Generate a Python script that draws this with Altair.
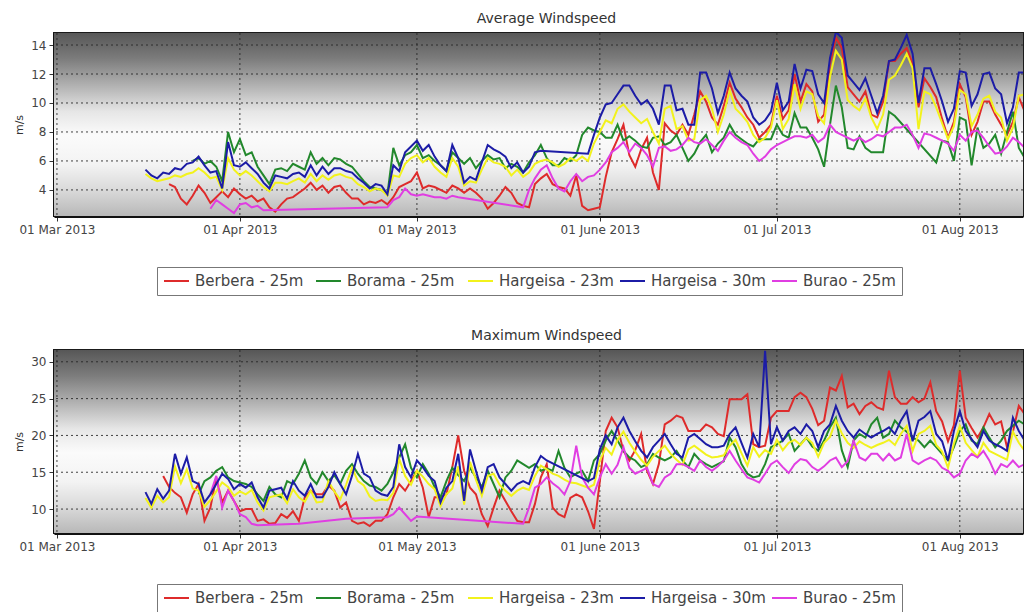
import altair as alt
import pandas as pd

N = None
SERIES = ["Berbera - 25m", "Borama - 25m", "Hargeisa - 23m", "Hargeisa - 30m", "Burao - 25m"]
COLORS = ["#de2b2b", "#22882c", "#f2f21c", "#1c1ca6", "#e03ee2"]
DRAW_ORDER = ["Berbera - 25m", "Borama - 25m", "Hargeisa - 23m", "Burao - 25m", "Hargeisa - 30m"]
FIRST_DAY = "2013-03-16"

# ---------------- Average windspeed (m/s), daily from 16 Mar 2013 ----------------
avg_berbera = [
    N, N, N, N, 4.4, 4.2, 3.4, 3.0, 3.6, 4.3,
    3.8, 3.1, 3.5, 3.9, 3.5, 4.1, 3.7, 3.4, 3.6, 3.2,
    3.4, 2.8, 2.5, 3.0, 3.4, 3.5, 3.8, 4.1, 4.5, 4.0,
    4.3, 3.8, 4.2, 4.3, 3.8, 3.4, 3.4, 3.0, 3.2, 3.1,
    3.3, 3.0, 3.5, 4.2, 4.4, 4.6, 5.2, 4.1, 4.3, 4.2,
    4.0, 3.8, 4.3, 4.1, 3.8, 4.1, 3.8, 3.4, 2.7, 3.1,
    3.6, 4.2, 3.8, 3.1, 2.9, 2.8, 4.4, 4.8, 5.1, 4.4,
    4.2, 4.1, 3.6, 5.0, 2.9, 2.6, 2.7, 2.8, 4.9, 6.6,
    7.5, 8.5, 6.4, 5.6, 6.8, 7.6, 5.2, 4.0, 8.6, 8.1,
    7.8, 8.5, 7.8, 9.2, 10.8, 10.1, 9.0, 8.5, 9.8, 11.4,
    10.3, 9.7, 9.0, 8.5, 7.6, 8.0, 8.5, 10.5, 8.9, 9.5,
    12.0, 10.1, 11.3, 10.8, 8.7, 9.2, 12.7, 14.5, 13.8, 11.1,
    10.6, 10.1, 10.8, 9.2, 9.0, 10.1, 12.9, 12.9, 13.4, 13.8,
    12.7, 9.7, 11.7, 11.1, 10.4, 8.9, 7.6, 8.7, 11.3, 10.4,
    7.8, 8.7, 10.1, 10.1, 9.2, 8.5, 7.8, 8.7, 10.4, 9.4,
    8.5,
]
avg_borama = [
    N, N, N, N, N, N, N, N, 6.0, 6.2,
    5.8, 6.0, 5.6, 4.6, 8.0, 6.6, 7.5, 6.4, 6.6, 5.6,
    5.0, 4.4, 5.4, 5.5, 5.3, 5.8, 5.6, 5.4, 6.6, 5.8,
    6.2, 5.7, 6.2, 6.1, 5.8, 5.6, 5.1, 4.6, 4.2, 4.1,
    4.0, 3.7, 6.9, 5.7, 6.4, 6.6, 7.1, 6.2, 6.4, 6.0,
    5.7, 5.3, 6.6, 6.2, 5.8, 6.2, 5.5, 6.0, 6.4, 6.1,
    6.2, 5.5, 5.8, 5.6, 5.2, 5.9, 6.4, 7.1, 6.2, 5.7,
    5.7, 6.2, 6.0, 6.4, 7.8, 8.3, 8.1, 8.0, 7.6, 7.6,
    8.5, 7.4, 7.7, 7.4, 7.0, 6.9, 7.6, 7.7, 7.1, 7.3,
    7.8, 6.9, 6.0, 6.5, 7.3, 7.8, 6.6, 7.2, 7.6, 8.5,
    7.8, 7.5, 7.2, 7.0, 7.5, 7.5, 7.5, 8.5, 7.8, 7.6,
    9.3, 8.3, 8.3, 7.6, 6.8, 5.6, 8.5, 11.2, 9.7, 6.9,
    6.8, 7.7, 6.9, 6.6, 6.6, 6.6, 9.4, 9.1, N, N,
    N, N, N, N, 5.9, 7.4, 7.3, 6.0, 9.0, 8.8,
    5.7, 8.3, 6.9, 7.2, 7.8, 6.5, 8.0, 9.4, 6.9, 6.2,
    6.5,
]
avg_hargeisa23 = [
    5.1, 4.8, 4.6, 4.7, 4.8, 5.0, 4.9, 5.1, 5.2, 5.5,
    5.2, 4.8, 4.9, 4.0, 6.2, 5.4, 5.0, 5.3, 5.0, 4.6,
    4.2, 3.9, 4.5, 4.5, 4.4, 4.6, 4.8, 4.5, 5.1, 4.6,
    5.0, 4.7, 5.0, 5.1, 4.9, 4.8, 4.4, 4.2, 3.9, 4.1,
    4.0, 3.6, 5.0, 4.9, 5.8, 6.2, 6.4, 5.9, 6.2, 5.6,
    5.2, 4.9, 6.2, 5.6, 4.3, 4.6, 4.5, 5.4, 6.2, 5.9,
    5.8, 5.6, 5.0, 5.4, 4.9, 5.2, 5.8, 6.0, 6.1, 5.9,
    5.6, 5.8, 6.2, 6.0, 6.3, 6.0, 7.2, 8.0, 8.8, 8.6,
    9.6, 9.9, 9.4, 9.0, 8.6, 8.9, 8.0, 7.2, 9.6, 9.8,
    8.2, 8.4, 7.4, 7.5, 10.2, 10.5, 9.6, 8.0, 9.2, 10.9,
    9.6, 9.2, 8.7, 7.8, 7.3, 7.6, 8.3, 10.2, 8.2, 8.9,
    11.3, 9.6, 10.8, 10.6, 9.1, 8.6, 11.8, 13.6, 13.0, 10.2,
    9.8, 9.5, 10.3, 9.0, 8.2, 9.2, 11.6, 11.9, 12.6, 13.4,
    12.4, 8.2, 10.8, 10.6, 9.7, 8.6, 7.5, 8.4, 10.9, 10.6,
    8.4, 9.2, 10.3, 10.5, 9.4, 9.0, 7.4, 8.3, 10.5, 10.6,
    8.8,
]
avg_hargeisa30 = [
    5.4, 5.0, 4.8, 5.2, 5.1, 5.5, 5.4, 5.8, 5.9, 6.3,
    5.7, 5.2, 5.3, 4.1, 7.3, 5.7, 5.6, 5.9, 5.5, 5.1,
    4.5, 4.1, 5.0, 4.9, 4.8, 5.1, 5.2, 4.9, 5.7, 5.0,
    5.6, 5.1, 5.5, 5.5, 5.3, 5.2, 4.8, 4.5, 4.1, 4.4,
    4.3, 3.7, 5.7, 5.3, 6.6, 7.0, 7.4, 6.7, 7.1, 6.3,
    5.7, 5.3, 7.1, 6.2, 4.5, 4.9, 4.7, 5.9, 7.1, 6.8,
    6.6, 6.3, 5.5, 5.9, 5.2, 5.6, 6.6, 6.7, N, N,
    N, N, N, N, N, 6.5, 7.8, 9.0, 9.9, 10.0,
    10.6, 11.2, 11.2, 10.5, 9.9, 10.2, 9.6, 8.5, 11.2, 11.2,
    9.5, 9.6, 8.5, 8.5, 12.1, 12.1, 11.0, 9.3, 10.5, 12.1,
    11.0, 10.5, 10.1, 9.0, 8.5, 8.8, 9.4, 11.4, 9.5, 10.1,
    12.7, 11.0, 12.3, 12.2, 10.6, 10.0, 13.1, 14.9, 14.5, 11.9,
    11.4, 10.9, 11.7, 10.5, 9.3, 10.5, 12.9, 13.0, 13.8, 14.7,
    13.4, 10.0, 12.4, 12.4, 11.3, 10.1, 8.7, 9.6, 12.2, 12.1,
    9.8, 10.6, 12.0, 12.1, 11.0, 10.6, 8.6, 9.7, 12.1, 12.1,
    10.1,
]
avg_burao = [
    N, N, N, N, N, N, N, N, N, N,
    N, 2.7, 3.3, 3.0, 2.7, 2.4, 3.0, 3.1, 2.8, 2.9,
    2.6, N, N, N, N, N, N, N, N, N,
    N, N, N, N, N, N, N, N, N, N,
    N, 2.8, 3.3, 3.5, 4.1, 3.7, 3.6, 3.7, 3.6, 3.5,
    3.5, 3.4, 3.6, 3.5, N, N, N, N, N, N,
    N, N, N, N, 2.8, 4.0, 4.8, 5.4, 5.7, 4.8,
    4.1, 3.9, 4.6, 5.1, 4.6, 4.9, 5.0, 5.4, 5.9, 6.6,
    6.9, 7.3, 6.6, 7.2, 6.9, 6.4, 5.6, 6.9, 7.0, 6.7,
    6.8, 7.1, 7.6, 7.3, 7.2, 7.5, 7.1, 6.7, 7.4, 8.0,
    7.6, 7.3, 7.1, 6.5, 6.0, 6.3, 6.8, 7.1, 7.3, 7.5,
    7.7, 7.7, 7.6, 7.8, 7.3, 7.6, 8.5, 8.0, 7.8, 7.6,
    7.4, 7.6, 7.3, 7.5, 7.8, 7.7, 8.0, 8.3, 8.3, 8.5,
    7.8, 6.9, 7.9, 7.8, 7.6, 7.4, 7.2, 6.7, 7.8, 7.4,
    8.0, 8.1, 7.6, 7.0, 6.5, 6.6, 7.0, 7.6, 7.3, 6.9,
    7.3,
]

# ---------------- Maximum windspeed (m/s), daily from 16 Mar 2013 ----------------
max_berbera = [
    N, N, N, 14.5, 13.0, 12.2, 11.6, 9.5, 12.0, 13.4,
    8.4, 10.2, 14.3, 10.9, 12.5, 11.1, 9.7, 10.0, 10.0, 8.4,
    8.6, 8.0, 8.1, 9.3, 8.8, 9.7, 8.4, 11.6, 12.5, 12.0,
    12.0, 13.2, 12.5, 10.2, 10.9, 8.4, 8.0, 8.2, 7.7, 8.4,
    8.4, 9.3, 11.6, 13.4, 12.5, 13.8, 15.2, 12.9, 8.9, 11.6,
    11.6, 12.0, 15.7, 20.0, 15.2, 12.9, 12.0, 9.3, 7.7, 10.2,
    12.5, 11.1, 9.7, 8.4, 8.2, 8.2, 10.7, 14.3, 16.1, 10.2,
    9.3, 8.9, 11.5, 12.0, 11.6, 9.7, 7.3, 13.8, 20.6, 22.4,
    21.1, 17.9, 16.6, 18.0, 20.2, 15.2, 13.4, 16.1, 21.5, 22.0,
    22.7, 22.4, 20.6, 20.6, 20.6, 21.5, 21.1, 20.2, 19.9, 24.9,
    24.9, 24.9, 25.6, 18.8, 18.4, 18.6, 22.4, 23.3, 23.3, 23.3,
    25.2, 25.8, 25.2, 23.6, 21.4, 22.0, 26.5, 26.1, 28.1, 23.8,
    24.3, 22.9, 24.0, 24.5, 23.8, 23.5, 28.8, 25.2, 24.3, 24.3,
    25.2, 24.5, 25.0, 27.2, 23.3, 21.9, 19.2, 21.4, 28.8, 22.4,
    21.0, 19.7, 21.1, 22.9, 21.5, 21.9, 18.4, 20.5, 24.0, 22.9,
    21.1,
]
max_borama = [
    N, N, N, N, N, N, N, N, N, 12.0,
    13.8, 14.3, 15.2, 15.7, 14.3, 13.8, 13.6, 13.4, 13.0, 12.0,
    11.1, 13.0, 12.0, 11.6, 13.8, 13.4, 14.8, 16.6, 14.3, 13.4,
    15.0, 13.8, 14.6, 13.4, 15.2, 16.1, 14.8, 13.8, 13.2, 13.0,
    12.5, 13.4, 15.0, 17.0, 18.8, 15.6, 14.3, 16.1, 14.8, 13.0,
    11.6, 13.8, 15.6, 14.6, 13.8, 15.6, 14.3, 13.0, 15.2, 13.4,
    11.6, 14.3, 15.2, 16.6, 16.1, 15.6, 16.1, 15.2, 15.5, 15.2,
    17.9, 15.6, 14.3, 14.8, 15.2, 13.8, 16.6, 17.5, 19.3, 20.6,
    19.3, 17.9, 17.0, 16.6, 15.7, 16.1, 17.5, 17.0, 16.6, 17.0,
    17.9, 16.6, 15.7, 17.5, 16.6, 16.1, 15.7, 16.1, 16.5, 19.7,
    18.4, 16.1, 14.8, 14.3, 14.5, 16.1, 18.4, 18.8, 19.3, 20.2,
    17.9, 18.8, 19.7, 18.5, 17.9, 19.3, 21.1, 22.4, 18.0, 15.7,
    19.3, 20.2, 19.7, 21.5, 22.4, 19.7, 20.2, 22.0, 21.1, 20.5,
    19.7, 19.3, 18.4, 19.3, 18.4, 17.5, 16.6, 18.4, 20.6, 21.5,
    19.3, 18.8, 21.1, 19.7, 18.4, 19.3, 20.6, 21.3, 22.0, 21.5,
    20.6,
]
max_hargeisa23 = [
    11.5, 10.2, 11.8, 10.9, 11.6, 15.8, 13.5, 15.4, 12.8, 12.5,
    10.3, 11.2, 12.4, 13.6, 13.0, 11.8, 12.4, 12.0, 12.6, 10.9,
    9.8, 11.6, 11.8, 12.0, 10.8, 12.7, 11.6, 11.0, 12.5, 10.9,
    11.0, 13.8, 12.4, 11.3, 13.3, 15.6, 13.8, 13.2, 11.7, 11.1,
    11.3, 11.2, 12.2, 16.8, 14.5, 13.3, 15.2, 14.4, 13.4, 12.7,
    10.4, 12.0, 12.8, 15.8, 10.6, 16.4, 14.0, 11.8, 14.5, 14.8,
    13.3, 12.5, 11.8, 12.5, 12.9, 12.6, 14.5, 15.9, 15.4, 14.8,
    14.5, 14.0, 13.6, 13.5, 13.2, 12.9, 13.3, 16.6, 18.3, 17.4,
    19.4, 20.5, 19.0, 17.8, 16.7, 15.9, 17.1, 17.9, 18.6, 17.5,
    16.7, 16.0, 18.1, 18.6, 18.0, 17.4, 17.0, 17.1, 17.3, 18.6,
    19.4, 17.6, 15.9, 18.4, 17.1, 18.0, 17.5, 19.4, 18.0, 19.0,
    19.4, 18.7, 19.7, 19.0, 17.1, 19.0, 19.8, 22.0, 20.3, 19.0,
    18.3, 19.2, 18.7, 18.3, 18.7, 19.0, 19.4, 18.7, 20.2, 21.3,
    17.9, 20.2, 20.6, 21.3, 18.7, 17.8, 15.6, 18.9, 21.3, 19.0,
    18.0, 17.1, 19.0, 17.9, 17.5, 17.1, 16.7, 20.5, 19.0, 17.9,
    17.6,
]
max_hargeisa30 = [
    12.3, 10.7, 12.7, 11.4, 12.5, 17.5, 14.8, 17.0, 13.8, 13.4,
    10.9, 12.0, 13.4, 14.8, 14.1, 12.7, 13.4, 12.9, 13.6, 11.6,
    10.2, 12.5, 12.7, 12.9, 11.4, 13.8, 12.5, 11.8, 13.4, 11.6,
    11.6, 13.0, 15.0, 13.4, 12.0, 14.5, 17.5, 14.8, 14.3, 12.5,
    12.0, 11.8, 13.0, 18.8, 15.7, 14.3, 16.6, 15.7, 14.5, 13.8,
    10.9, 12.9, 13.8, 17.5, 11.1, 18.1, 15.2, 12.5, 15.7, 16.1,
    14.3, 13.4, 12.5, 13.4, 13.8, 13.4, 15.7, 17.2, 16.6, N,
    N, N, N, N, N, 13.8, 14.2, 18.1, 20.0, 18.8,
    21.1, 22.4, 20.6, 19.2, 17.9, 17.0, 18.4, 19.3, 20.2, 18.8,
    17.5, 17.0, 19.7, 20.2, 19.5, 18.8, 18.4, 18.4, 18.6, 20.2,
    21.1, 19.0, 17.0, 20.2, 18.4, 31.5, 18.8, 21.1, 19.3, 20.6,
    21.1, 20.2, 21.5, 20.6, 18.4, 20.6, 21.5, 24.0, 22.0, 20.6,
    19.7, 20.8, 20.2, 19.7, 20.2, 20.6, 21.1, 20.2, 22.0, 23.3,
    19.2, 22.0, 22.5, 23.3, 20.2, 19.2, 16.6, 20.6, 23.3, 20.6,
    19.5, 18.4, 20.6, 19.3, 18.8, 18.4, 17.9, 22.4, 20.6, 19.3,
    19.0,
]
max_burao = [
    N, N, N, N, N, N, N, N, N, N,
    N, 12.0, 14.5, 10.2, 12.5, 11.1, 9.3, 8.9, 8.0, 7.8,
    N, N, N, N, N, N, 8.0, N, N, N,
    N, N, N, N, 8.7, N, N, N, N, N,
    N, 8.9, 9.3, 10.2, 9.3, 8.4, 9.0, N, N, N,
    N, N, N, N, N, N, N, N, N, N,
    N, N, N, N, 8.0, 10.2, 12.9, 13.4, 14.3, 13.5,
    12.9, 12.0, 13.8, 18.6, 14.3, 12.9, 12.0, 14.3, 16.1, 14.8,
    16.0, 18.4, 15.6, 14.8, 15.2, 15.6, 13.4, 13.0, 14.3, 14.8,
    16.1, 16.1, 15.7, 15.2, 16.6, 15.7, 15.2, 15.8, 16.6, 17.9,
    16.6, 15.4, 14.3, 14.0, 13.6, 14.8, 16.1, 16.6, 15.7, 14.9,
    16.1, 16.8, 16.6, 15.7, 15.2, 15.8, 16.6, 17.0, 15.7, 16.5,
    19.3, 17.0, 16.6, 17.5, 17.5, 16.6, 17.5, 16.6, 17.0, 20.2,
    16.6, 16.1, 16.6, 17.0, 16.6, 15.6, 15.2, 14.3, 14.8, 16.6,
    17.5, 17.0, 17.9, 16.6, 14.8, 16.1, 15.7, 16.6, 15.7, 16.1,
    16.0,
]

AVG_Y_TICKS = [4, 6, 8, 10, 12, 14]
MAX_Y_TICKS = [10, 15, 20, 25, 30]
MONTH_STARTS = ["2013-03-01", "2013-04-01", "2013-05-01", "2013-06-01", "2013-07-01", "2013-08-01"]


def long_frame(series_values):
    rows = []
    for name, values in zip(SERIES, series_values):
        days = pd.date_range(FIRST_DAY, periods=len(values), freq="D")
        for day, v in zip(days, values):
            if v is not None:
                rows.append({"date": day.strftime("%Y-%m-%d"), "series": name, "value": v})
    return pd.DataFrame(rows)


avg_df = long_frame([avg_berbera, avg_borama, avg_hargeisa23, avg_hargeisa30, avg_burao])
max_df = long_frame([max_berbera, max_borama, max_hargeisa23, max_hargeisa30, max_burao])

X_DOMAIN = [
    alt.DateTime(year=2013, month=2, date=28, hours=12, utc=True),
    alt.DateTime(year=2013, month=8, date=11, hours=17, utc=True),
]
MONTH_TICKS = [alt.DateTime(year=2013, month=m, date=1, utc=True) for m in range(3, 9)]

FONT = "DejaVu Sans"
GRADIENT = alt.LinearGradient(
    gradient="linear", x1=0, y1=0, x2=0, y2=1,
    stops=[
        alt.GradientStop(offset=0.0, color="#575757"),
        alt.GradientStop(offset=0.14, color="#7c7c7c"),
        alt.GradientStop(offset=0.30, color="#b6b6b6"),
        alt.GradientStop(offset=0.43, color="#e6e6e6"),
        alt.GradientStop(offset=0.56, color="#fbfbfb"),
        alt.GradientStop(offset=0.72, color="#f3f3f3"),
        alt.GradientStop(offset=0.86, color="#d9d9d9"),
        alt.GradientStop(offset=1.0, color="#b8b8b8"),
    ],
)


def panel(df, title, y_domain, y_ticks):
    x = alt.X(
        "date:T",
        scale=alt.Scale(type="utc", domain=X_DOMAIN),
        axis=alt.Axis(
            values=MONTH_TICKS, format="%d %b %Y",
            labelExpr="replace(datum.label, 'Jun ', 'June ')",
            title=None, grid=False,
            tickSize=5, labelPadding=3, labelFontSize=12, labelFont=FONT, labelColor="#444444",
            domainWidth=3, domainColor="#111111", tickColor="#333333",
            labelFlush=False, labelOverlap=False,
        ),
    )
    y = alt.Y(
        "value:Q",
        scale=alt.Scale(domain=y_domain, nice=False, zero=False),
        axis=alt.Axis(
            values=y_ticks, title="m/s", grid=False, tickSize=5, labelPadding=3,
            labelFontSize=12, labelFont=FONT, labelColor="#444444", domainWidth=3,
            domainColor="#111111", tickColor="#333333",
            titleFont=FONT, titleFontSize=11, titleFontWeight="normal", titleColor="#333333",
            titlePadding=6,
        ),
    )
    color = alt.Color(
        "series:N",
        title=None,
        scale=alt.Scale(domain=SERIES, range=COLORS),
        legend=alt.Legend(
            orient="none", legendX=103, legendY=234, direction="horizontal", columns=5,
            gridAlign="all", columnPadding=5, symbolType="stroke", symbolSize=625,
            symbolStrokeWidth=2, labelFont=FONT, labelFontSize=15, labelColor="#444444",
            labelOffset=5, labelLimit=300, padding=6, clipHeight=16,
            strokeColor="#777777", fillColor="#ffffff",
        ),
    )
    background = alt.Chart(pd.DataFrame({"one": [1]})).mark_rect(color=GRADIENT).encode(
        x=alt.value(0), x2=alt.value("width"), y=alt.value(0), y2=alt.value("height")
    )
    hgrid = alt.Chart(pd.DataFrame({"value": y_ticks})).mark_rule(
        color="#222222", strokeDash=[2, 3], strokeWidth=1, opacity=0.85
    ).encode(y=y)
    vgrid = alt.Chart(pd.DataFrame({"date": MONTH_STARTS})).mark_rule(
        color="#222222", strokeDash=[2, 3], strokeWidth=1, opacity=0.85
    ).encode(x=x)
    lines = [
        alt.Chart(df)
        .transform_filter(alt.datum.series == s)
        .mark_line(strokeWidth=2, clip=True)
        .encode(x=x, y=y, color=color)
        for s in DRAW_ORDER
    ]
    return alt.layer(background, hgrid, vgrid, *lines).properties(
        width=969,
        height=183,
        title=alt.TitleParams(
            text=title, font=FONT, fontSize=14, fontWeight="normal", color="#333333",
            offset=7, dx=8, anchor="middle", frame="group",
        ),
        view=alt.ViewBackground(stroke="#1a1a1a", strokeWidth=2),
    )


top = panel(avg_df, "Average Windspeed", [2.2, 14.83], AVG_Y_TICKS)
bottom = panel(max_df, "Maximum Windspeed", [6.75, 31.6], MAX_Y_TICKS)

chart = (
    alt.vconcat(top, bottom, spacing=30)
    .resolve_scale(color="independent")
    .resolve_legend(color="independent")
    .properties(padding={"left": 4, "top": 2, "right": 0, "bottom": 0}, background="#ffffff")
)

chart.save("out.html", embed_options={"renderer": "svg", "actions": False})
